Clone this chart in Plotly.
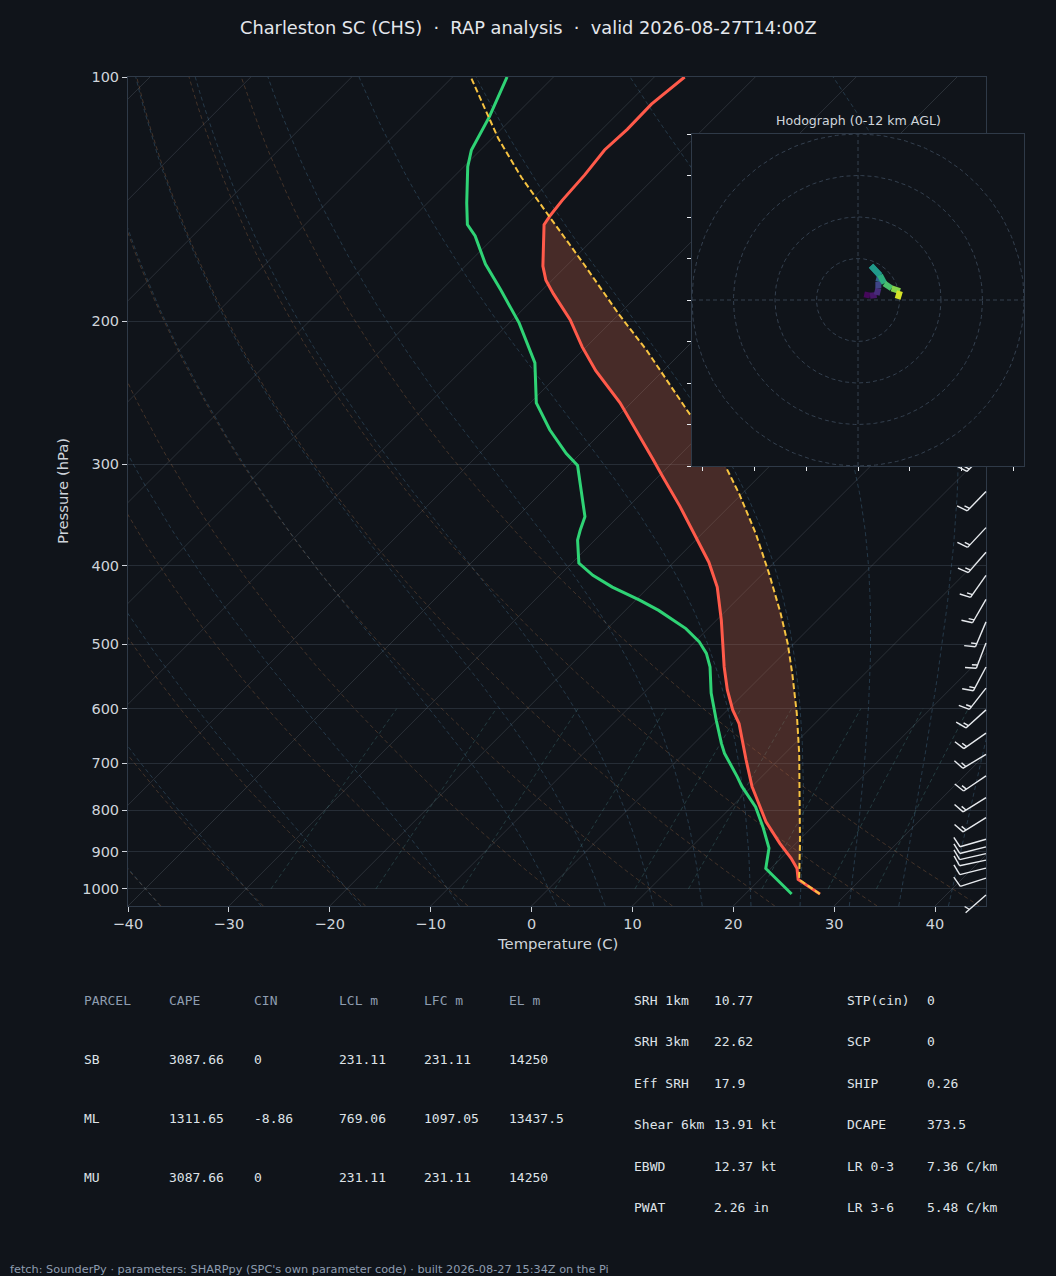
import numpy as np
import plotly.graph_objects as go
from plotly.colors import sample_colorscale

# ---------------- data ----------------
TITLE = "Charleston SC (CHS)\u00a0\u00a0\u00b7\u00a0\u00a0RAP analysis\u00a0\u00a0\u00b7\u00a0\u00a0valid 2026-08-27T14:00Z"
FOOTER = "fetch: SounderPy \u00b7 parameters: SHARPpy (SPC's own parameter code) \u00b7 built 2026-08-27 15:34Z on the Pi"

# environmental temperature (C) at pressure (hPa)
temp_p = [1015, 974, 944, 917, 879, 827, 748, 694, 626, 602, 569, 533, 467, 425,
          396, 370, 338, 311, 296, 252, 230, 215, 199, 185, 178, 171, 152, 148,
          142, 132, 123, 116, 108, 100]
temp_c = [27.4, 23.8, 22.6, 21.0, 18.4, 14.9, 10.0, 6.8, 2.5, 0.5, -2.0, -4.6, -9.5, -13.2,
          -16.5, -20.1, -24.9, -29.5, -32.2, -41.1, -46.7, -50.4, -54.3, -58.5, -60.6, -62.3, -66.3, -66.6,
          -66.9, -67.2, -67.7, -67.5, -67.6, -67.0]

# dewpoint (C) at pressure (hPa)
dew_p = [1015, 944, 891, 839, 793, 748, 728, 681, 662, 620, 574, 533, 513, 496, 478, 454, 441, 425,
         411, 397, 372, 362, 348, 323, 301, 291, 272, 252, 225, 201, 183, 170, 157, 152, 143, 129,
         123, 112, 100]
dew_c = [24.6, 19.5, 17.8, 15.1, 12.4, 9.0, 7.6, 4.0, 2.7, -0.1, -3.3, -6.0, -7.7, -9.6, -12.2, -16.7, -19.6, -23.6,
         -26.7, -29.3, -31.7, -32.4, -33.3, -36.3, -39.1, -41.4, -45.4, -49.4, -53.5, -59.0, -64.1, -68.2, -72.0, -73.9, -76.1, -79.6,
         -80.9, -82.4, -84.6]

# surface-based parcel path
parcel_p = [1015, 974, 879, 778, 681, 608, 543, 499, 458, 409, 365, 326, 302, 257, 217, 196, 169, 149, 133, 119, 100]
parcel_c = [27.4, 23.9, 20.4, 16.1, 11.4, 7.2, 2.8, -0.6, -4.3, -9.4, -14.7, -20.3, -24.3, -33.8, -43.7, -50.0, -58.8, -66.4, -73.2, -79.4, -88.2]

# wind barbs (pressure hPa, direction deg, speed kt)
barb_p = [120, 135, 152, 172, 195, 222, 255, 290,
          324, 359, 385, 411, 440, 469, 498, 533, 566, 602, 643, 683, 726, 772, 817,
          869, 888, 905, 922, 943, 970, 1018]
barb_dir = [235, 230, 225, 225, 220, 220, 225, 225,
            224, 223, 221, 215, 210, 203, 201, 208, 218, 228, 235, 239, 236, 238, 238,
            254, 256, 257, 258, 256, 252, 229]
barb_spd = [20, 20, 15, 15, 15, 15, 15, 15,
            15, 15, 15, 15, 15, 15, 15, 15, 15, 15, 15, 15, 15, 15, 15,
            10, 10, 10, 10, 10, 10, 5]

# hodograph (kt) coloured by height (km AGL)
hodo_h = [0, 0.5, 1, 2, 3, 4.5, 6, 7, 8, 9, 10.5, 12]
hodo_u = [3.0, 5.8, 9.0, 9.8, 9.8, 10.6, 6.3, 10.6, 12.7, 16.2, 20.2, 19.1]
hodo_v = [2.7, 2.1, 2.4, 5.6, 8.8, 11.7, 16.5, 12.0, 8.0, 5.6, 4.3, 0.5]

# parcel table
tbl_head = ["PARCEL", "CAPE", "CIN", "LCL m", "LFC m", "EL m"]
tbl_parcel = ["SB", "ML", "MU"]
tbl_cape = [3087.66, 1311.65, 3087.66]
tbl_cin = [0, -8.86, 0]
tbl_lcl = [231.11, 769.06, 231.11]
tbl_lfc = [231.11, 1097.05, 231.11]
tbl_el = [14250, 13437.5, 14250]

# index tables
idx1_label = ["SRH 1km", "SRH 3km", "Eff SRH", "Shear 6km", "EBWD", "PWAT"]
idx1_value = [10.77, 22.62, 17.9, 13.91, 12.37, 2.26]
idx1_unit = ["", "", "", " kt", " kt", " in"]
idx2_label = ["STP(cin)", "SCP", "SHIP", "DCAPE", "LR 0-3", "LR 3-6"]
idx2_value = [0, 0, 0.26, 373.5, 7.36, 5.48]
idx2_unit = ["", "", "", "", " C/km", " C/km"]

x_tick_vals = [-40, -30, -20, -10, 0, 10, 20, 30, 40]
p_tick_vals = [100, 200, 300, 400, 500, 600, 700, 800, 900, 1000]

# ---------------- layout geometry & styles ----------------
W, H = 1056, 1276
BG = "#10141a"
TXT = "#cfd4db"
SPINE = "#2f3a48"
GRID = "#262d36"
SANS = "DejaVu Sans"
MONO = "DejaVu Sans Mono"

X0, X1, Y0, Y1 = 128, 986, 77, 906          # skew-T plot area (px)
TMIN, TMAX = -40.0, 45.05
PBOT, PTOP = 1050.0, 100.0
HX0, HX1, HY0, HY1 = 692, 1024, 134, 466    # hodograph area (px)

px_per_deg = (X1 - X0) / (TMAX - TMIN)
px_per_dec = (Y1 - Y0) / (np.log10(PBOT) - np.log10(PTOP))
K = px_per_dec / px_per_deg  # skew: degrees per decade of pressure (45 deg isotherms)


def skew(t, p):
    return np.asarray(t, float) + K * np.log10(PBOT / np.asarray(p, float))


def y_px(p):
    return Y1 - px_per_dec * np.log10(PBOT / np.asarray(p, float))


def joined(lines):
    xs, ys = [], []
    for x, y in lines:
        xs += list(x) + [None]
        ys += list(y) + [None]
    return xs, ys


fig = go.Figure()

# ---------------- background reference lines ----------------
pgrid = np.linspace(PBOT, PTOP, 120)
# isotherms
iso = [(skew([t, t], [PBOT, PTOP]), [PBOT, PTOP]) for t in range(-170, 50, 10)]
xs, ys = joined(iso)
fig.add_trace(go.Scatter(x=xs, y=ys, mode="lines", line=dict(color="rgba(150,160,175,0.20)", width=1),
                         hoverinfo="skip", xaxis="x", yaxis="y"))
# dry adiabats
dry = []
for t0 in np.arange(-40, 41, 10):
    t = (t0 + 273.15) * (pgrid / 1000.0) ** 0.2857 - 273.15
    dry.append((skew(t, pgrid), pgrid))
xs, ys = joined(dry)
fig.add_trace(go.Scatter(x=xs, y=ys, mode="lines",
                         line=dict(color="rgba(175,115,70,0.32)", width=1, dash="4px,3px"),
                         hoverinfo="skip", xaxis="x", yaxis="y"))

# moist adiabats (RK4 integration of the saturated lapse rate)
RD, CPD, LV, EPS = 287.04749, 1005.7, 2.501e6, 0.622


def moist_rate(p, T):
    tc = T - 273.15
    es = 6.112 * np.exp(17.67 * tc / (tc + 243.5))
    rs = EPS * es / (p - es)
    return (RD * T + LV * rs) / (CPD + LV * LV * rs * EPS / (RD * T * T)) / p


def integrate(T0, ps):
    out = [T0]
    T = T0
    for i in range(len(ps) - 1):
        p, h = ps[i], ps[i + 1] - ps[i]
        k1 = moist_rate(p, T)
        k2 = moist_rate(p + h / 2, T + h * k1 / 2)
        k3 = moist_rate(p + h / 2, T + h * k2 / 2)
        k4 = moist_rate(p + h, T + h * k3)
        T = T + h * (k1 + 2 * k2 + 2 * k3 + k4) / 6
        out.append(T)
    return np.array(out)


m_t0 = np.concatenate((np.arange(-40, 0, 10), np.arange(0, 46, 5))) + 273.15
p_up = np.linspace(1000, PTOP, 181)
p_dn = np.linspace(1000, PBOT, 11)
T_up = integrate(m_t0, p_up)
T_dn = integrate(m_t0, p_dn)
moist = []
for j in range(len(m_t0)):
    pp = np.concatenate((p_dn[::-1], p_up[1:]))
    tt = np.concatenate((T_dn[::-1, j], T_up[1:, j])) - 273.15
    moist.append((skew(tt, pp), pp))
xs, ys = joined(moist)
fig.add_trace(go.Scatter(x=xs, y=ys, mode="lines",
                         line=dict(color="rgba(80,135,170,0.32)", width=1, dash="4px,3px"),
                         hoverinfo="skip", xaxis="x", yaxis="y"))

# mixing-ratio lines
mix = []
pm = np.linspace(1000, 600, 30)
for w in [0.0004, 0.001, 0.002, 0.004, 0.007, 0.01, 0.016, 0.024, 0.032]:
    e = pm * w / (EPS + w)
    lg = np.log(e / 6.112)
    td = 243.5 * lg / (17.67 - lg)
    mix.append((skew(td, pm), pm))
xs, ys = joined(mix)
fig.add_trace(go.Scatter(x=xs, y=ys, mode="lines",
                         line=dict(color="rgba(80,150,150,0.30)", width=1, dash="4px,3px"),
                         hoverinfo="skip", xaxis="x", yaxis="y"))

# ---------------- CAPE shading ----------------
lp_all = np.unique(np.concatenate((np.log10(temp_p), np.log10(parcel_p))))
lp_all = lp_all[(lp_all <= np.log10(max(parcel_p))) & (lp_all >= np.log10(min(parcel_p)))]
tp_i = np.interp(lp_all, np.log10(temp_p)[::-1], np.array(temp_c)[::-1])
pa_i = np.interp(lp_all, np.log10(parcel_p)[::-1], np.array(parcel_c)[::-1])
pp_i = 10 ** lp_all
upper = np.maximum(pa_i, tp_i)
fx = list(skew(upper, pp_i)) + list(skew(tp_i, pp_i)[::-1])
fy = list(pp_i) + list(pp_i[::-1])
fig.add_trace(go.Scatter(x=fx, y=fy, mode="lines", fill="toself", fillcolor="rgba(200,100,72,0.30)",
                         line=dict(width=0), hoverinfo="skip", xaxis="x", yaxis="y"))

# ---------------- profiles ----------------
fig.add_trace(go.Scatter(x=skew(temp_c, temp_p), y=temp_p, mode="lines",
                         line=dict(color="#ff5a4a", width=3), xaxis="x", yaxis="y"))
fig.add_trace(go.Scatter(x=skew(dew_c, dew_p), y=dew_p, mode="lines",
                         line=dict(color="#2fd375", width=3), xaxis="x", yaxis="y"))
fig.add_trace(go.Scatter(x=skew(parcel_c, parcel_p), y=parcel_p, mode="lines",
                         line=dict(color="#f7c341", width=2, dash="6px,3px"), xaxis="x", yaxis="y"))

# ---------------- wind barbs (pixel overlay) ----------------
L = 27.0
bx, by = [], []


def seg(a, b):
    bx.extend([a[0], b[0], None])
    by.extend([a[1], b[1], None])


for p, d, s in zip(barb_p, barb_dir, barb_spd):
    x0, y0 = float(X1), float(y_px(p))
    th = np.radians(d)
    dsx, dsy = np.sin(th), -np.cos(th)   # toward wind source (screen)
    bsx, bsy = np.cos(th), np.sin(th)    # feather side (screen)

    def pt(a, q):
        return (x0 + a * dsx + q * bsx, y0 + a * dsy + q * bsy)

    seg(pt(0, 0), pt(L, 0))
    r = int(5 * round(s / 5.0))
    nbarb = (r % 50) // 10
    half = (r % 10) >= 5
    off = L
    sp, fh, fw = 0.125 * L, 0.4 * L, 0.25 * L
    for _ in range(nbarb):
        seg(pt(off, 0), pt(off + fw / 2, fh))
        off -= sp
    if half:
        if off == L:
            off -= 1.5 * sp
        seg(pt(off, 0), pt(off + fw / 4, fh / 2))

fig.add_trace(go.Scatter(x=bx, y=by, mode="lines", line=dict(color="#e8ebef", width=1.4),
                         hoverinfo="skip", xaxis="x2", yaxis="y2"))

# ---------------- hodograph ----------------
fig.add_trace(go.Scatter(x=[-80, 80, 80, -80, -80], y=[-80, -80, 80, 80, -80], mode="lines",
                         fill="toself", fillcolor=BG, line=dict(width=0), hoverinfo="skip",
                         xaxis="x3", yaxis="y3"))
ang = np.linspace(0, 2 * np.pi, 241)
rings = [(r * np.cos(ang), r * np.sin(ang)) for r in (20, 40, 60, 80)]
rings += [([-80, 80], [0, 0]), ([0, 0], [-80, 80])]
xs, ys = joined(rings)
fig.add_trace(go.Scatter(x=xs, y=ys, mode="lines", line=dict(color="#34404f", width=1, dash="4px,3px"),
                         hoverinfo="skip", xaxis="x3", yaxis="y3"))
for i in range(len(hodo_h) - 1):
    c = sample_colorscale("Viridis", [((hodo_h[i] + hodo_h[i + 1]) / 2) / 12.0])[0]
    fig.add_trace(go.Scatter(x=hodo_u[i:i + 2], y=hodo_v[i:i + 2], mode="lines",
                             line=dict(color=c, width=6), hoverinfo="skip", xaxis="x3", yaxis="y3"))

# ---------------- text ----------------
ann = []


def A(x, y, text, size, color=TXT, family=SANS, xanchor="left", yanchor="middle", **kw):
    ann.append(dict(x=x / W, y=1 - y / H, xref="paper", yref="paper", text=text, showarrow=False,
                    font=dict(size=size, color=color, family=family), xanchor=xanchor,
                    yanchor=yanchor, **kw))


A(528, 27, TITLE, 17.8, "#e4e7ec", xanchor="center")
A(63, 491, "Pressure (hPa)", 14.8, xanchor="center", textangle=-90)
A(557, 943, "Temperature (C)", 14.8, xanchor="center")
A(858, 120, "Hodograph (0-12 km AGL)", 12.6, xanchor="center")


def fmt(v):
    return f"{v:.10g}"


col_x = [82, 167, 252, 337, 422, 507]
for cx, h in zip(col_x, tbl_head):
    A(cx, 1000, h, 13, "#8e9db0", MONO)
row_y = [1059, 1118, 1177]
for i, ry in enumerate(row_y):
    cells = [tbl_parcel[i], fmt(tbl_cape[i]), fmt(tbl_cin[i]), fmt(tbl_lcl[i]), fmt(tbl_lfc[i]), fmt(tbl_el[i])]
    for cx, c in zip(col_x, cells):
        A(cx, ry, c, 13, "#dfe3e8", MONO)

idx_y = [1000, 1041.5, 1083, 1124.5, 1166, 1207.5]
for i, ry in enumerate(idx_y):
    A(632, ry, idx1_label[i], 13, "#dfe3e8", MONO)
    A(712, ry, fmt(idx1_value[i]) + idx1_unit[i], 13, "#dfe3e8", MONO)
    A(845, ry, idx2_label[i], 13, "#dfe3e8", MONO)
    A(925, ry, fmt(idx2_value[i]) + idx2_unit[i], 13, "#dfe3e8", MONO)

A(8, 1269, FOOTER, 11.3, "#8e9db0")

tick_font = dict(family=SANS, size=14.5, color=TXT)
fig.update_layout(
    width=W, height=H, autosize=False, template="none",
    margin=dict(l=0, r=0, t=0, b=0, pad=0),
    paper_bgcolor=BG, plot_bgcolor="rgba(0,0,0,0)", showlegend=False,
    annotations=ann,
    xaxis=dict(domain=[X0 / W, X1 / W], range=[TMIN, TMAX], anchor="y",
               tickvals=x_tick_vals, ticktext=[str(v).replace("-", "\u2212") for v in x_tick_vals],
               showgrid=False, zeroline=False, showline=True, mirror=True, linecolor=SPINE, linewidth=1,
               ticks="outside", ticklen=5, tickwidth=1, tickcolor=TXT, tickfont=tick_font),
    yaxis=dict(domain=[1 - Y1 / H, 1 - Y0 / H], type="log", range=[np.log10(PBOT), np.log10(PTOP)],
               anchor="x", tickvals=p_tick_vals, ticktext=[str(v) for v in p_tick_vals],
               showgrid=True, gridcolor=GRID, gridwidth=1, zeroline=False, showline=True, mirror=True,
               linecolor=SPINE, linewidth=1, ticks="outside", ticklen=5, tickwidth=1, tickcolor=TXT,
               tickfont=tick_font),
    xaxis2=dict(domain=[0, 1], range=[0, W], anchor="y2", visible=False),
    yaxis2=dict(domain=[0, 1], range=[H, 0], anchor="x2", visible=False),
    xaxis3=dict(domain=[HX0 / W, HX1 / W], range=[-80, 80], anchor="y3",
                tickvals=[-75, -50, -25, 0, 25, 50, 75], showticklabels=False, ticks="outside",
                ticklen=4, tickwidth=1, tickcolor="#e8ebef", showgrid=False, zeroline=False,
                showline=True, mirror=True, linecolor=SPINE, linewidth=1),
    yaxis3=dict(domain=[1 - HY1 / H, 1 - HY0 / H], range=[-80, 80], anchor="x3",
                tickvals=list(range(-80, 81, 20)), showticklabels=False, ticks="outside",
                ticklen=4, tickwidth=1, tickcolor="#e8ebef", showgrid=False, zeroline=False,
                showline=True, mirror=True, linecolor=SPINE, linewidth=1),
)

fig.write_html("out.html", config={"displayModeBar": False},
               post_script="document.body.style.margin='0';document.body.style.overflow='hidden';")
